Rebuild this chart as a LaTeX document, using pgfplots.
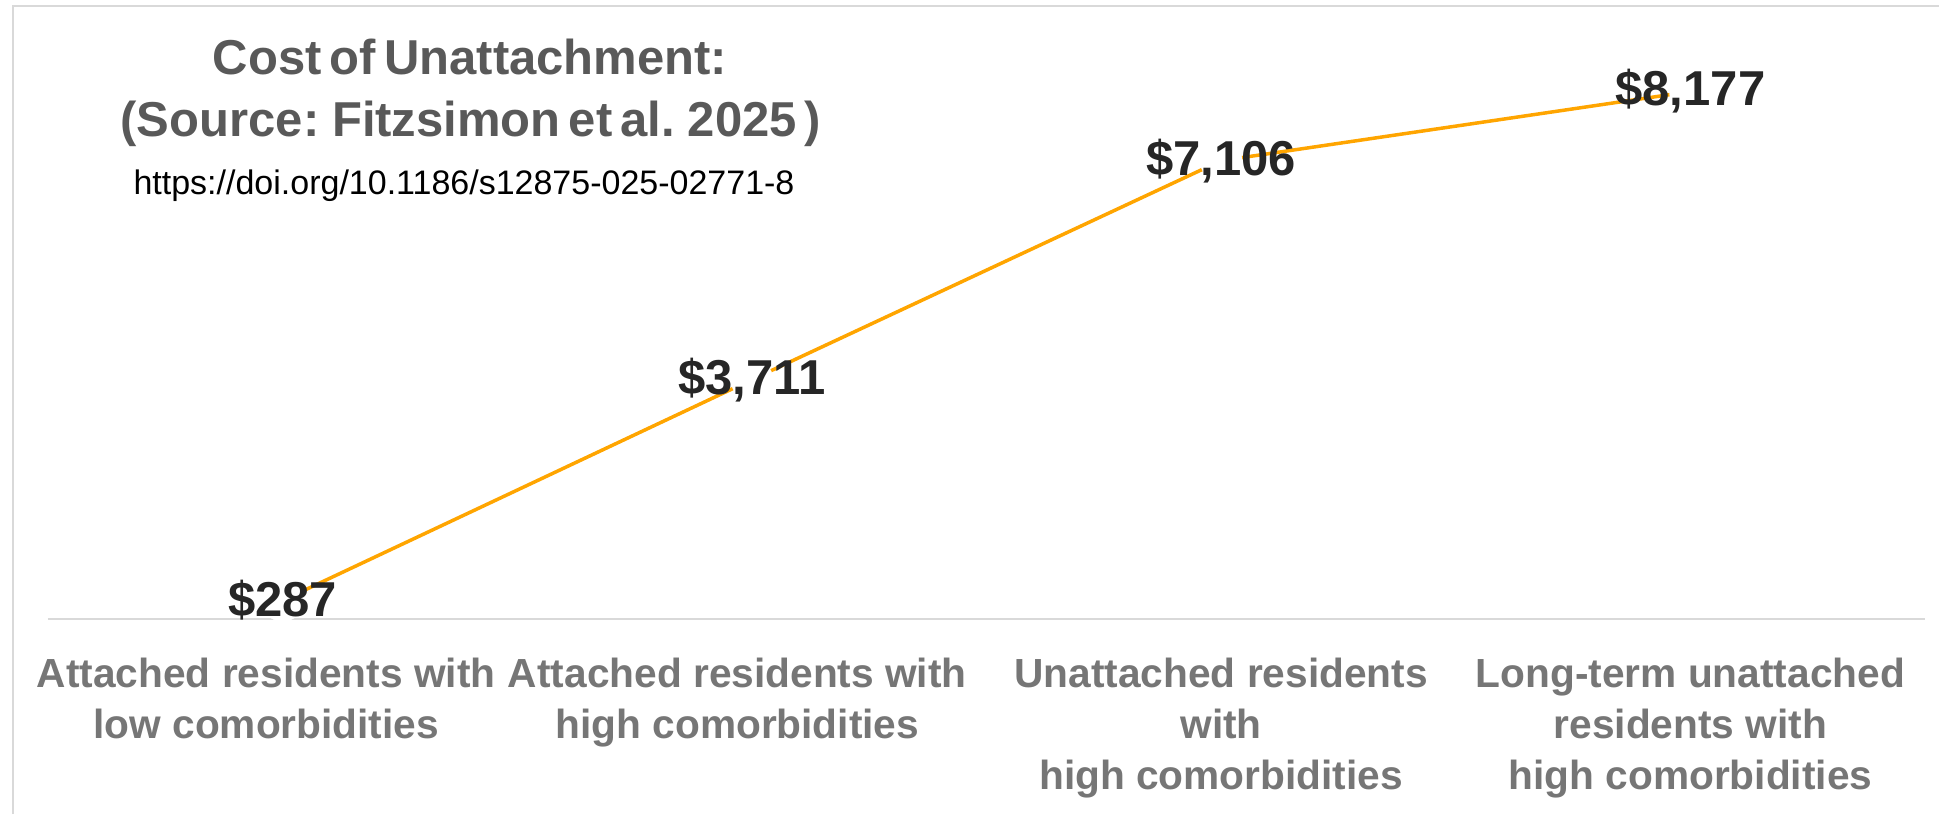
\documentclass[border=0pt]{standalone}
\usepackage{pgfplots}
\pgfplotsset{compat=1.18}
\usepackage{fontspec}
\setmainfont{Liberation Sans}
\newfontfamily\titlefont[WordSpace=0.6]{Liberation Sans}
\definecolor{lineor}{HTML}{FFA500}
\definecolor{lbl}{HTML}{262626}
\definecolor{xlab}{HTML}{767676}
\definecolor{ttl}{HTML}{595959}
\definecolor{framec}{HTML}{D9D9D9}
\begin{document}
\begin{tikzpicture}
\useasboundingbox (0,0) rectangle (581.7pt,244.2pt);
\draw[framec, line width=0.6pt] (3.9pt,0) -- (3.9pt,242.4pt) -- (581.7pt,242.4pt);
\begin{axis}[
  at={(14.4pt,58.5pt)}, anchor=south west,
  scale only axis, width=563.1pt, height=174.15pt,
  xmin=-0.5, xmax=3.5, ymin=0, ymax=9000,
  hide y axis,
  axis x line*=bottom,
  x axis line style={draw=framec, line width=0.6pt, -},
  xtick={-0.035,0.969,2,3},
  xticklabels={{Attached residents with\\low comorbidities},{Attached residents with\\high comorbidities},{Unattached residents\\with\\high comorbidities},{Long-term unattached\\residents with\\high comorbidities}},
  major tick length=0pt,
  xtick style={draw=none},
  xticklabel style={anchor=north, inner sep=0pt, yshift=-11.4pt, align=center, text=xlab, font=\fontsize{12.2}{15.3}\selectfont\bfseries},
  clip=false,
]
\addplot[color=lineor, line width=1.05pt, mark=*, mark options={fill=white, draw=white, line width=0.1pt}, mark size=6.3pt,
  nodes near coords, point meta=explicit symbolic,
  every node near coord/.append style={anchor=center, inner sep=0pt, font=\fontsize{14.7}{17}\selectfont\bfseries, text=lbl}]
 coordinates {(0,287)[\$287] (1,3711)[\$3,711] (2,7106)[\$7,106] (3,8177)[\$8,177]};
\end{axis}
\node[text=ttl, font=\titlefont\fontsize{14.7}{17}\selectfont\bfseries, inner sep=0pt] at (141pt,227pt) {Cost of Unattachment:};
\node[text=ttl, font=\titlefont\fontsize{14.7}{17}\selectfont\bfseries, inner sep=0pt] at (141.3pt,207pt) {(Source: Fitzsimon et al. 2025 )};
\node[text=black, font=\fontsize{10.2}{12}\selectfont, inner sep=0pt] at (139.2pt,188.6pt) {https://doi.org/10.1186/s12875-025-02771-8};
\end{tikzpicture}
\end{document}
